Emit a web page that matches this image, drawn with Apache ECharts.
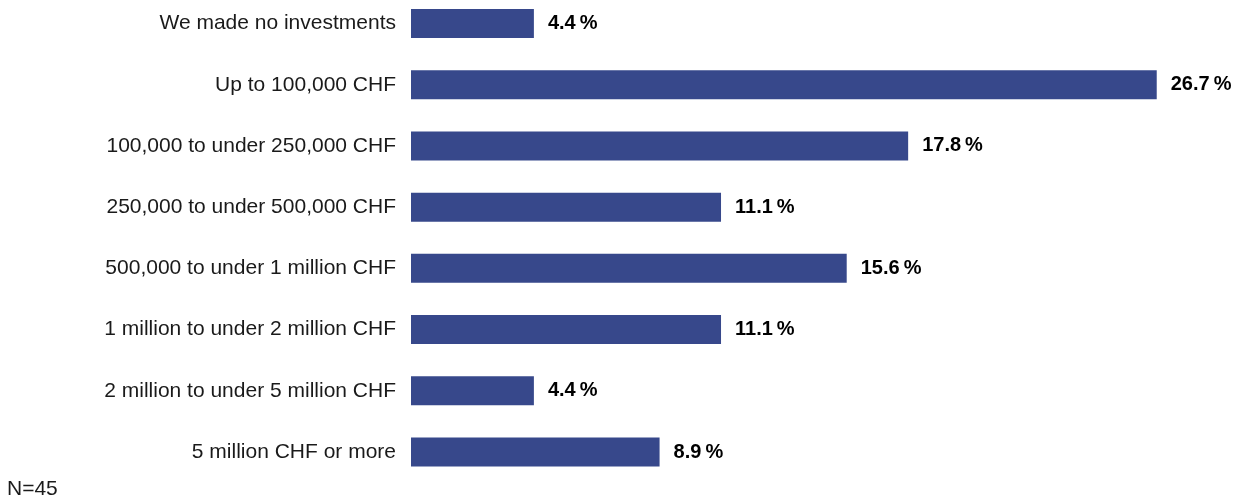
<!DOCTYPE html>
<html>
<head>
<meta charset="utf-8">
<script src="https://cdn.jsdelivr.net/npm/echarts@6/dist/echarts.min.js"></script>
<style>
  html, body { margin: 0; padding: 0; background: #ffffff; }
  #chart { width: 1236px; height: 499px; }
</style>
</head>
<body>
<div id="chart"></div>
<script>
// Investment volume brackets (top to bottom) and share of respondents in %
const categories = [
  'We made no investments',
  'Up to 100,000 CHF',
  '100,000 to under 250,000 CHF',
  '250,000 to under 500,000 CHF',
  '500,000 to under 1 million CHF',
  '1 million to under 2 million CHF',
  '2 million to under 5 million CHF',
  '5 million CHF or more'
];
const shares = [4.4, 26.7, 17.8, 11.1, 15.6, 11.1, 4.4, 8.9];
const sampleNote = 'N=45';

const chart = echarts.init(document.getElementById('chart'), null, { renderer: 'canvas' });

chart.setOption({
  animation: false,
  backgroundColor: '#ffffff',
  textStyle: { fontFamily: '"Liberation Sans", Arial, sans-serif' },
  graphic: [{
    type: 'text',
    left: 7,
    top: 479,
    style: {
      text: sampleNote,
      fill: '#1a1a1a',
      font: '21px "Liberation Sans", Arial, sans-serif'
    }
  }],
  // categories sit on the tick points (boundaryGap off): first row at the grid top, last at its bottom
  grid: {
    left: 411,
    top: 23.5,
    width: 28 * 27.93,
    height: 428.5,
    containLabel: false
  },
  xAxis: {
    type: 'value',
    min: 0,
    max: 28,
    show: false
  },
  yAxis: {
    type: 'category',
    inverse: true,
    boundaryGap: false,
    data: categories,
    axisLine: { show: false },
    axisTick: { show: false },
    splitLine: { show: false },
    axisLabel: {
      margin: 15,
      color: '#1a1a1a',
      fontSize: 21,
      fontFamily: '"Liberation Sans", Arial, sans-serif'
    }
  },
  series: [{
    type: 'bar',
    data: shares,
    barWidth: 29,
    itemStyle: { color: '#37488b' },
    label: {
      show: true,
      position: 'right',
      distance: 14,
      color: '#000000',
      fontSize: 20,
      fontWeight: 'bold',
      fontFamily: '"Liberation Sans", Arial, sans-serif',
      formatter: p => p.value.toFixed(1) + '\u2009%'
    }
  }]
});
</script>
</body>
</html>
